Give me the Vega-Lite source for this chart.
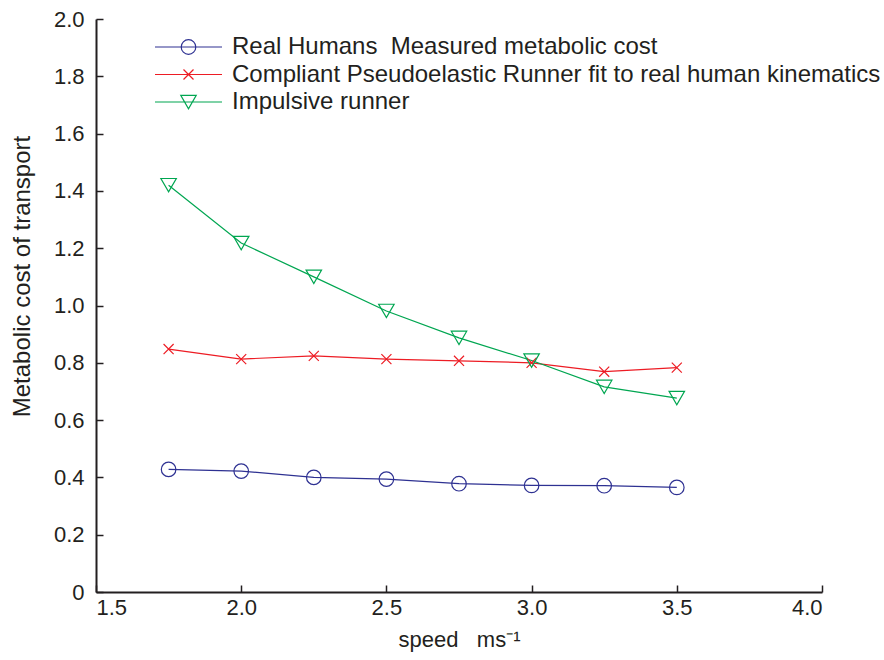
{
  "$schema": "https://vega.github.io/schema/vega-lite/v6.json",
  "width": 726,
  "height": 573,
  "autosize": "none",
  "padding": {"left": 96, "top": 19, "right": 62, "bottom": 68},
  "background": "white",
  "config": {
    "view": {"stroke": null},
    "font": "Liberation Sans",
    "axis": {
      "grid": false,
      "domainColor": "#231F20",
      "domainWidth": 2,
      "tickColor": "#231F20",
      "tickWidth": 1.5,
      "tickSize": -7,
      "labelFont": "Liberation Sans",
      "labelFontSize": 22,
      "labelColor": "#231F20",
      "titleFont": "Liberation Sans",
      "titleFontWeight": "normal",
      "titleColor": "#231F20"
    }
  },
  "data": {
    "values": [
      {"series": "Real Humans\u00a0 Measured metabolic cost", "speed": 1.75, "cost": 0.428},
      {"series": "Real Humans\u00a0 Measured metabolic cost", "speed": 2.0, "cost": 0.422},
      {"series": "Real Humans\u00a0 Measured metabolic cost", "speed": 2.25, "cost": 0.400},
      {"series": "Real Humans\u00a0 Measured metabolic cost", "speed": 2.5, "cost": 0.394},
      {"series": "Real Humans\u00a0 Measured metabolic cost", "speed": 2.75, "cost": 0.378},
      {"series": "Real Humans\u00a0 Measured metabolic cost", "speed": 3.0, "cost": 0.372},
      {"series": "Real Humans\u00a0 Measured metabolic cost", "speed": 3.25, "cost": 0.371},
      {"series": "Real Humans\u00a0 Measured metabolic cost", "speed": 3.5, "cost": 0.365},
      {"series": "Compliant Pseudoelastic Runner fit to real human kinematics", "speed": 1.75, "cost": 0.848},
      {"series": "Compliant Pseudoelastic Runner fit to real human kinematics", "speed": 2.0, "cost": 0.813},
      {"series": "Compliant Pseudoelastic Runner fit to real human kinematics", "speed": 2.25, "cost": 0.824},
      {"series": "Compliant Pseudoelastic Runner fit to real human kinematics", "speed": 2.5, "cost": 0.813},
      {"series": "Compliant Pseudoelastic Runner fit to real human kinematics", "speed": 2.75, "cost": 0.807},
      {"series": "Compliant Pseudoelastic Runner fit to real human kinematics", "speed": 3.0, "cost": 0.800},
      {"series": "Compliant Pseudoelastic Runner fit to real human kinematics", "speed": 3.25, "cost": 0.769},
      {"series": "Compliant Pseudoelastic Runner fit to real human kinematics", "speed": 3.5, "cost": 0.783},
      {"series": "Impulsive runner", "speed": 1.75, "cost": 1.420},
      {"series": "Impulsive runner", "speed": 2.0, "cost": 1.218},
      {"series": "Impulsive runner", "speed": 2.25, "cost": 1.100},
      {"series": "Impulsive runner", "speed": 2.5, "cost": 0.981},
      {"series": "Impulsive runner", "speed": 2.75, "cost": 0.887},
      {"series": "Impulsive runner", "speed": 3.0, "cost": 0.808},
      {"series": "Impulsive runner", "speed": 3.25, "cost": 0.716},
      {"series": "Impulsive runner", "speed": 3.5, "cost": 0.677}
    ]
  },
  "encoding": {
    "x": {
      "field": "speed",
      "type": "quantitative",
      "scale": {"domain": [1.5, 4.0], "nice": false, "zero": false},
      "axis": {
        "values": [1.5, 2.0, 2.5, 3.0, 3.5, 4.0],
        "format": ".1f",
        "labelPadding": 12,
        "title": "speed\u00a0\u00a0 ms⁻¹",
        "titleFontSize": 22,
        "titlePadding": 11
      }
    },
    "y": {
      "field": "cost",
      "type": "quantitative",
      "scale": {"domain": [0, 2.0], "nice": false},
      "axis": {
        "values": [0, 0.2, 0.4, 0.6, 0.8, 1.0, 1.2, 1.4, 1.6, 1.8, 2.0],
        "labelExpr": "datum.value === 0 ? '0' : format(datum.value, '.1f')",
        "labelPadding": 19,
        "title": "Metabolic cost of transport",
        "titleFontSize": 24,
        "titlePadding": 19,
        "titleY": 257
      }
    },
    "color": {
      "field": "series",
      "type": "nominal",
      "scale": {
        "domain": [
          "Real Humans\u00a0 Measured metabolic cost",
          "Compliant Pseudoelastic Runner fit to real human kinematics",
          "Impulsive runner"
        ],
        "range": ["#2E3192", "#ED1C24", "#00A651"]
      },
      "legend": {
        "title": null,
        "orient": "none",
        "legendX": 59,
        "legendY": 16,
        "padding": 0,
        "labelFont": "Liberation Sans",
        "labelFontSize": 24,
        "labelColor": "#231F20",
        "labelLimit": 0,
        "labelOffset": 8,
        "symbolSize": 225,
        "symbolStrokeWidth": 1.2,
        "symbolFillColor": "transparent",
        "rowPadding": 3.5,
        "encode": {
          "labels": {
            "update": {
              "y": {"value": 12}
            }
          },
          "symbols": {
            "update": {
              "fill": {"value": "transparent"},
              "size": {"value": 4489},
              "x": {"value": 33.5},
              "y": {"value": 12},
              "shape": {
                "signal": "datum.value === 'Impulsive runner' ? 'M-1,0L1,0M-0.231,-0.2L0.231,-0.2L0,0.2Z' : (datum.value === 'Compliant Pseudoelastic Runner fit to real human kinematics' ? 'M-1,0L1,0M-0.149,-0.149L0.149,0.149M0.149,-0.149L-0.149,0.149' : 'M-1,0L1,0M0.218,0A0.218,0.218,0,1,1,-0.218,0A0.218,0.218,0,1,1,0.218,0Z')"
              }
            }
          }
        }
      }
    }
  },
  "layer": [
    {
      "mark": {"type": "line", "strokeWidth": 1.2}
    },
    {
      "transform": [{"filter": "datum.series === 'Real Humans\u00a0 Measured metabolic cost'"}],
      "mark": {"type": "point", "filled": false, "strokeWidth": 1.2, "size": 225, "opacity": 1,
               "shape": "M0.97,0A0.97,0.97,0,1,1,-0.97,0A0.97,0.97,0,1,1,0.97,0Z"}
    },
    {
      "transform": [{"filter": "datum.series === 'Compliant Pseudoelastic Runner fit to real human kinematics'"}],
      "mark": {"type": "point", "filled": false, "strokeWidth": 1.2, "size": 225, "opacity": 1,
               "shape": "M-0.67,-0.67L0.67,0.67M0.67,-0.67L-0.67,0.67"}
    },
    {
      "transform": [{"filter": "datum.series === 'Impulsive runner'"}],
      "mark": {"type": "point", "filled": false, "strokeWidth": 1.2, "size": 225, "opacity": 1,
               "shape": "M-1.03,-0.89L1.03,-0.89L0,0.89Z"}
    }
  ]
}
